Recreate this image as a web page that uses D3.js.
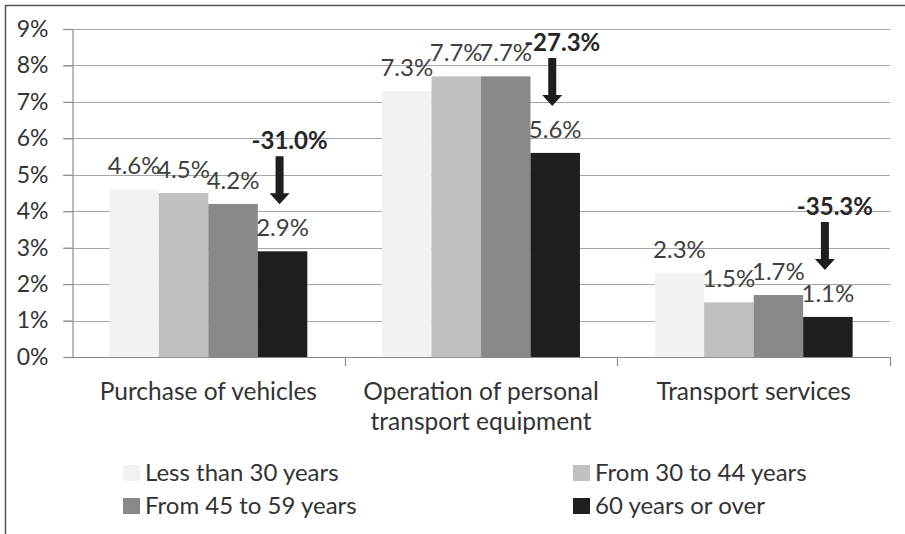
<!DOCTYPE html>
<html>
<head>
<meta charset="utf-8">
<script src="https://cdn.jsdelivr.net/npm/d3@7"></script>
<style>
  html, body { margin: 0; padding: 0; background: #fff; }
  svg { display: block; }
  text { font-family: Lato, "Open Sans", sans-serif; }
</style>
</head>
<body>
<svg id="chart" width="905" height="534"></svg>
<script>
// ---- data ----
const categories = ["Purchase of vehicles", "Operation of personal transport equipment", "Transport services"];
const categoryLines = [["Purchase of vehicles"], ["Operation of personal", "transport equipment"], ["Transport services"]];
const seriesNames = ["Less than 30 years", "From 30 to 44 years", "From 45 to 59 years", "60 years or over"];
const lessThan30 = [4.6, 7.3, 2.3];
const from30to44 = [4.5, 7.7, 1.5];
const from45to59 = [4.2, 7.7, 1.7];
const over60 = [2.9, 5.6, 1.1];
const changeLabels = ["-31.0%", "-27.3%", "-35.3%"];
const yTicks = [0, 1, 2, 3, 4, 5, 6, 7, 8, 9];
const seriesColors = ["#f2f2f2", "#c0c0c0", "#898989", "#1e1e1e"];

const seriesValues = [lessThan30, from30to44, from45to59, over60];

const svg = d3.select("#chart");

// outer frame
svg.append("rect").attr("x", 5.5).attr("y", 5.5).attr("width", 920).attr("height", 560)
  .attr("fill", "none").attr("stroke", "#555").attr("stroke-width", 1.5);

const pLeft = 72, pRight = 890, pTop = 29, pBottom = 357;

const y = d3.scaleLinear().domain([0, 9]).range([pBottom, pTop]);
const x0 = d3.scaleBand().domain(categories).range([pLeft, pRight]).padding(0);
const groupFrac = 0.726;
const bw0 = x0.bandwidth();
const x1 = d3.scaleBand().domain(seriesNames)
  .range([bw0 * (1 - groupFrac) / 2, bw0 * (1 + groupFrac) / 2]).padding(0);

// gridlines
svg.append("g").selectAll("line").data(yTicks.filter(d => d > 0)).enter().append("line")
  .attr("x1", pLeft - 9).attr("x2", pRight)
  .attr("y1", d => Math.round(y(d)) + 0.5).attr("y2", d => Math.round(y(d)) + 0.5)
  .attr("stroke", "#a6a6a6").attr("stroke-width", 1.2);

// y axis
const yAxis = d3.axisLeft(y).tickValues(yTicks).tickFormat(d => d + "%").tickSize(9).tickPadding(15);
const ya = svg.append("g").attr("transform", `translate(${pLeft + 0.5},0)`).call(yAxis);
ya.select(".domain").attr("stroke", "#8c8c8c").attr("stroke-width", 1.2);
ya.selectAll(".tick line").attr("stroke", "#8c8c8c").attr("stroke-width", 1.2);
ya.selectAll(".tick text").attr("font-size", 23).attr("fill", "#333").attr("font-family", "Lato, sans-serif");

// bars
const rows = categories.map((c, i) => ({ cat: c, i, vals: seriesValues.map((s, k) => ({ name: seriesNames[k], k, v: s[i] })) }));
const groups = svg.append("g").selectAll("g").data(rows).enter().append("g")
  .attr("transform", d => `translate(${x0(d.cat)},0)`);
groups.selectAll("rect").data(d => d.vals).enter().append("rect")
  .attr("x", d => x1(d.name)).attr("width", x1.bandwidth())
  .attr("y", d => y(d.v)).attr("height", d => y(0) - y(d.v))
  .attr("fill", d => seriesColors[d.k]);

// data labels
groups.selectAll("text.val").data(d => d.vals).enter().append("text")
  .attr("class", "val")
  .attr("x", d => x1(d.name) + x1.bandwidth() / 2)
  .attr("y", d => y(d.v) - 15)
  .attr("text-anchor", "middle").attr("font-size", 24).attr("fill", "#404040")
  .text(d => d.v.toFixed(1) + "%");

// x axis
const xa = svg.append("g");
xa.append("line").attr("x1", pLeft).attr("x2", pRight).attr("y1", pBottom + 0.5).attr("y2", pBottom + 0.5)
  .attr("stroke", "#8c8c8c").attr("stroke-width", 1.2);
const boundaries = categories.map(c => x0(c) + bw0);
xa.selectAll("line.tk").data(boundaries).enter().append("line")
  .attr("x1", d => Math.round(d) + 0.5).attr("x2", d => Math.round(d) + 0.5)
  .attr("y1", pBottom).attr("y2", pBottom + 9)
  .attr("stroke", "#8c8c8c").attr("stroke-width", 1.2);
categories.forEach((c, i) => {
  const t = xa.append("text").attr("text-anchor", "middle").attr("font-size", 24.5).attr("fill", "#333")
    .attr("x", x0(c) + bw0 / 2).attr("y", 400);
  categoryLines[i].forEach((ln, j) => {
    t.append("tspan").attr("x", x0(c) + bw0 / 2).attr("dy", j === 0 ? 0 : 30).text(ln);
  });
});

// change annotations with arrows
const ann = svg.append("g");
categories.forEach((c, i) => {
  const cx = x0(c) + x1(seriesNames[3]) + x1.bandwidth() / 2;
  const tip = y(over60[i]) - 47;
  const start = tip - 48;
  const ax = cx - 3;
  const sw = 4, hw = 10, hh = 11;
  ann.append("path")
    .attr("d", `M${ax - sw},${start} L${ax + sw},${start} L${ax + sw},${tip - hh} L${ax + hw},${tip - hh} L${ax},${tip} L${ax - hw},${tip - hh} L${ax - sw},${tip - hh} Z`)
    .attr("fill", "#1e1e1e");
  ann.append("text").attr("x", cx + 7).attr("y", start - 7).attr("text-anchor", "middle")
    .attr("font-size", 24).attr("font-weight", "bold").attr("fill", "#262626").text(changeLabels[i]);
});

// legend
const legendPos = [[123, 465], [573, 465], [123, 498], [573, 498]];
const lg = svg.append("g");
seriesNames.forEach((n, k) => {
  const [lx, ly] = legendPos[k];
  lg.append("rect").attr("x", lx).attr("y", ly).attr("width", 17).attr("height", 16).attr("fill", seriesColors[k]);
  lg.append("text").attr("x", lx + 22).attr("y", ly + 16).attr("font-size", 24).attr("fill", "#333").text(n);
});
</script>
</body>
</html>
